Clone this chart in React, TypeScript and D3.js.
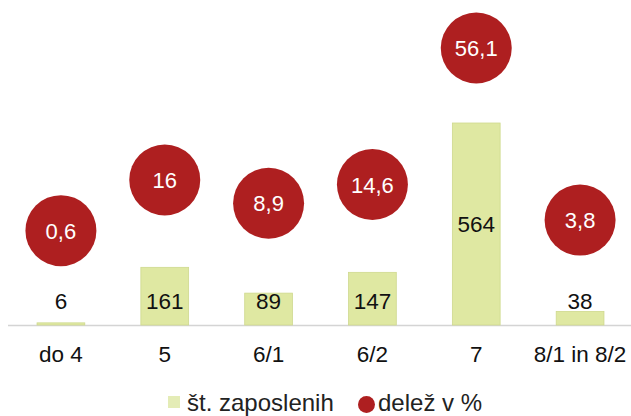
import React from 'react';
import * as d3 from 'd3';

// data
const categories = ['do 4', '5', '6/1', '6/2', '7', '8/1 in 8/2'];
const employees = [6, 161, 89, 147, 564, 38];
const shares = [0.6, 16, 8.9, 14.6, 56.1, 3.8];
const shareLabels = ['0,6', '16', '8,9', '14,6', '56,1', '3,8'];

const width = 631;
const height = 416;
const baseline = 325;
const font = 'Arial, "Liberation Sans", sans-serif';

const App = () => {
  const x = d3.scaleBand()
    .domain(categories)
    .range([9, 632])
    .paddingInner(0.54)
    .paddingOuter(0.27);

  const yBar = d3.scaleLinear()
    .domain([0, 564])
    .range([baseline, 123]);

  // bubbles follow their own scale above the bars
  const yShare = d3.scaleLinear()
    .domain([0, 56.1])
    .range([232.6, 48]);

  const r = 35.5;

  return (
    <svg width={width} height={height}
      style={{ position: 'absolute', left: 0, top: 0, background: '#fff' }}
      fontFamily={font}>
      <line x1={8} x2={width} y1={baseline + 0.5} y2={baseline + 0.5} stroke="#d4d4d4" strokeWidth={1.5} />

      {categories.map((c, i) => {
        const v = employees[i];
        const bx = x(c) as number;
        const top = yBar(v);
        const h = baseline - top;
        const cx = bx + x.bandwidth() / 2;
        const labelY = h > 100 ? top + h / 2 + 8 : 309;
        return (
          <g key={c}>
            <rect x={bx} y={top} width={x.bandwidth()} height={h}
              fill="#dfe8a2" stroke="#cfd98e" strokeWidth={0.8} />
            <text x={cx} y={labelY} textAnchor="middle" fontSize={22.5} fill="#111">{v}</text>
            <text x={cx} y={362} textAnchor="middle" fontSize={22.5} fill="#111">{c}</text>
          </g>
        );
      })}

      {categories.map((c, i) => {
        const cx = (x(c) as number) + x.bandwidth() / 2;
        const cy = yShare(shares[i]);
        return (
          <g key={'s' + c}>
            <circle cx={cx} cy={cy} r={r} fill="#ae1f20" />
            <text x={cx} y={cy + 8} textAnchor="middle" fontSize={22} fill="#fff">{shareLabels[i]}</text>
          </g>
        );
      })}

      {/* legend */}
      <rect x={168} y={396} width={12} height={12} fill="#e4ecb6" />
      <text x={187} y={411} fontSize={24} fill="#222">št. zaposlenih</text>
      <circle cx={366.5} cy={404.5} r={8.5} fill="#ae1f20" />
      <text x={378} y={411} fontSize={24} fill="#222">delež v %</text>
    </svg>
  );
};

export default App;
